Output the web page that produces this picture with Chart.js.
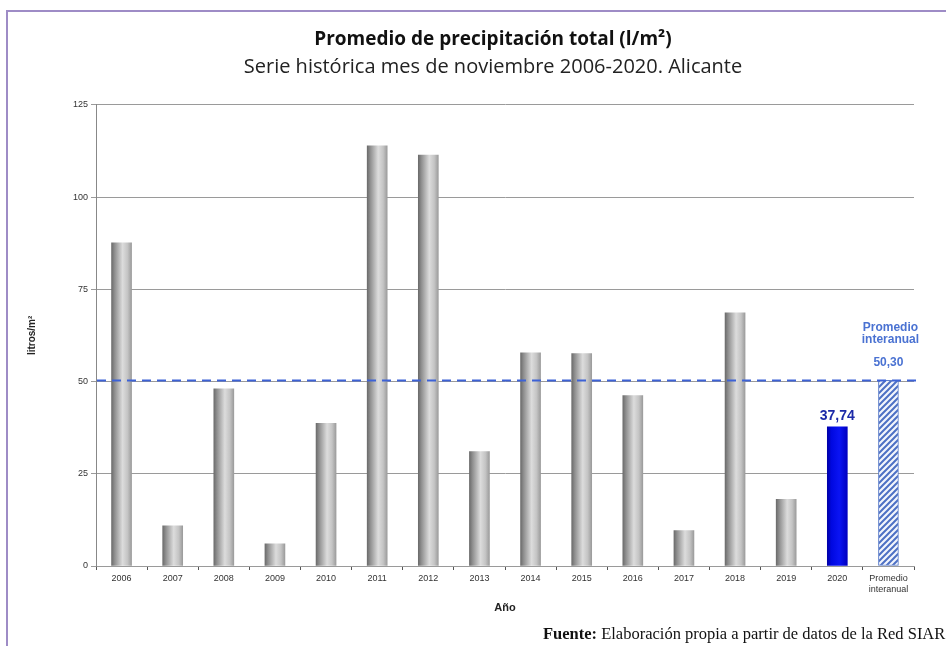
<!DOCTYPE html>
<html>
<head>
<meta charset="utf-8">
<title>Promedio de precipitación total - Alicante</title>
<script src="https://cdn.jsdelivr.net/npm/chart.js@4.4.1/dist/chart.umd.min.js"></script>
<style>
  html, body { margin: 0; padding: 0; background: #fff; overflow: hidden; }
  #wrap { position: relative; width: 946px; height: 646px; }
  #frame { position: absolute; left: 6px; top: 10px; width: 960px; height: 700px;
           border-left: 2px solid #9e8cc6; border-top: 2px solid #9e8cc6; }
  #chart { position: absolute; left: 0; top: 0; }
</style>
</head>
<body>
<div id="wrap">
  <div id="frame"></div>
  <canvas id="chart" width="946" height="646"></canvas>
</div>
<script>
// Datos (l/m², noviembre, Alicante)
const anios = ['2006', '2007', '2008', '2009', '2010', '2011', '2012', '2013',
               '2014', '2015', '2016', '2017', '2018', '2019', '2020'];
const precipitacion = [87.6, 10.9, 48.0, 6.0, 38.7, 113.9, 111.4, 31.0,
                       57.8, 57.6, 46.2, 9.6, 68.6, 18.1, 37.74];
const promedioInteranual = 50.30;
const etiquetaPromedio = ['Promedio', 'interanual'];
const ticksY = [0, 25, 50, 75, 100, 125];

const labels = [...anios, etiquetaPromedio];
const valores = [...precipitacion, promedioInteranual];
const idxActual = anios.length - 1;
const idxPromedio = anios.length;

const fmt = v => v.toFixed(2).replace('.', ',');
const fontSans = 'Liberation Sans, Arial, sans-serif';

// trama diagonal de la barra de promedio
function rayado() {
    const c = document.createElement('canvas');
    c.width = 6; c.height = 6;
    const g = c.getContext('2d');
    g.fillStyle = '#f2f5fc';
    g.fillRect(0, 0, 6, 6);
    g.strokeStyle = '#4d70c4';
    g.lineWidth = 2;
    g.beginPath();
    g.moveTo(-1, 7); g.lineTo(7, -1);
    g.moveTo(-4, 4); g.lineTo(4, -4);
    g.moveTo(2, 10); g.lineTo(10, 2);
    g.stroke();
    return g.createPattern(c, 'repeat');
}
let patron = null;

function cilindro(ctx, x, stops) {
    const g = ctx.createLinearGradient(x - 10, 0, x + 10, 0);
    stops.forEach(([p, c]) => g.addColorStop(p, c));
    return g;
}

function colorBarra(context) {
    const chart = context.chart;
    const i = context.dataIndex;
    if (i === idxPromedio) {
        if (!patron) patron = rayado();
        return patron;
    }
    const xs = chart.scales.x;
    const x = xs ? xs.getPixelForValue(i) : NaN;
    if (!isFinite(x)) return i === idxActual ? '#0008e0' : '#b4b4b4';
    if (i === idxActual) {
        return cilindro(chart.ctx, x, [[0, '#0000a8'], [0.2, '#0008e0'], [0.6, '#0a14f4'], [1, '#0000c0']]);
    }
    return cilindro(chart.ctx, x, [[0, '#6c6c6c'], [0.15, '#8e8e8e'], [0.55, '#dcdcdc'], [0.8, '#c4c4c4'], [1, '#9c9c9c']]);
}

const lineaPromedio = {
    id: 'lineaPromedio',
    afterDatasetsDraw(chart) {
        const { ctx, chartArea, scales } = chart;
        const y = scales.y.getPixelForValue(promedioInteranual);
        ctx.save();
        ctx.strokeStyle = '#3d62d6';
        ctx.lineWidth = 2;
        ctx.setLineDash([9, 6]);
        ctx.beginPath();
        ctx.moveTo(chartArea.left + 1, y);
        ctx.lineTo(chartArea.right + 4, y);
        ctx.stroke();
        ctx.restore();
    }
};

const rotulos = {
    id: 'rotulos',
    afterDraw(chart) {
        const ctx = chart.ctx;
        const bars = chart.getDatasetMeta(0).data;
        ctx.save();
        ctx.textAlign = 'center';
        ctx.textBaseline = 'middle';

        const bA = bars[idxActual];
        ctx.fillStyle = '#1c2aa8';
        ctx.font = 'bold 14px ' + fontSans;
        ctx.fillText(fmt(precipitacion[idxActual]), bA.x, bA.y - 11);

        const bP = bars[idxPromedio];
        ctx.fillStyle = '#4a72d2';
        ctx.font = 'bold 12px ' + fontSans;
        ctx.fillText(fmt(promedioInteranual), bP.x, bP.y - 18);
        ctx.fillText(etiquetaPromedio[0], bP.x + 2, bP.y - 53);
        ctx.fillText(etiquetaPromedio[1], bP.x + 2, bP.y - 41);

        // fuente
        ctx.textAlign = 'left';
        ctx.textBaseline = 'alphabetic';
        ctx.fillStyle = '#111';
        ctx.font = 'bold 16.5px Liberation Serif, Times New Roman, serif';
        const t1 = 'Fuente:';
        ctx.fillText(t1, 543, 639);
        const w1 = ctx.measureText(t1 + ' ').width;
        ctx.font = '16.5px Liberation Serif, Times New Roman, serif';
        ctx.fillText('Elaboración propia a partir de datos de la Red SIAR', 543 + w1, 639);
        ctx.restore();
    }
};

new Chart(document.getElementById('chart'), {
    type: 'bar',
    data: {
        labels: labels,
        datasets: [{
            data: valores,
            backgroundColor: colorBarra,
            borderColor: ctx => ctx.dataIndex === idxPromedio ? '#5b7cc8' : 'rgba(0,0,0,0)',
            borderWidth: ctx => ctx.dataIndex === idxPromedio ? 1 : 0,
            borderSkipped: false,
            barThickness: 20
        }]
    },
    options: {
        responsive: false,
        animation: false,
        // el bloque de títulos queda centrado en x≈493 como en el original
        layout: { padding: { left: 72, right: 32, top: 0, bottom: 20 } },
        plugins: {
            legend: { display: false },
            tooltip: { enabled: false },
            title: {
                display: true,
                text: 'Promedio de precipitación total (l/m²)',
                font: { family: 'Open Sans', size: 19, weight: 'bold' },
                color: '#111',
                padding: { top: 28.5, bottom: 3.5 }
            },
            subtitle: {
                display: true,
                text: 'Serie histórica mes de noviembre 2006-2020. Alicante',
                font: { family: 'Open Sans', size: 20 },
                color: '#222',
                padding: { top: 0, bottom: 26 }
            }
        },
        scales: {
            x: {
                grid: { drawOnChartArea: false, offset: true, tickLength: 4, color: '#555' },
                border: { color: '#9a9a9a' },
                ticks: { font: { family: fontSans, size: 9 }, color: '#333', padding: 3,
                         maxRotation: 0, autoSkip: false },
                title: { display: true, text: 'Año', color: '#222',
                         font: { family: fontSans, size: 11, weight: 'bold' },
                         padding: { top: 4, bottom: 11 } },
                afterFit(s) { s.height = 60; }
            },
            y: {
                min: ticksY[0],
                max: ticksY[ticksY.length - 1],
                afterBuildTicks(s) { s.ticks = ticksY.map(v => ({ value: v })); },
                grid: { color: '#9a9a9a', tickLength: 5 },
                border: { color: '#888' },
                ticks: { font: { family: fontSans, size: 9 }, color: '#333', padding: 3 },
                title: { display: true, text: 'litros/m²', color: '#222',
                         font: { family: fontSans, size: 10, weight: 'bold' },
                         padding: { top: -46, bottom: 0 } },
                afterFit(s) { s.width = 24; }
            }
        }
    },
    plugins: [lineaPromedio, rotulos]
});
</script>
</body>
</html>
